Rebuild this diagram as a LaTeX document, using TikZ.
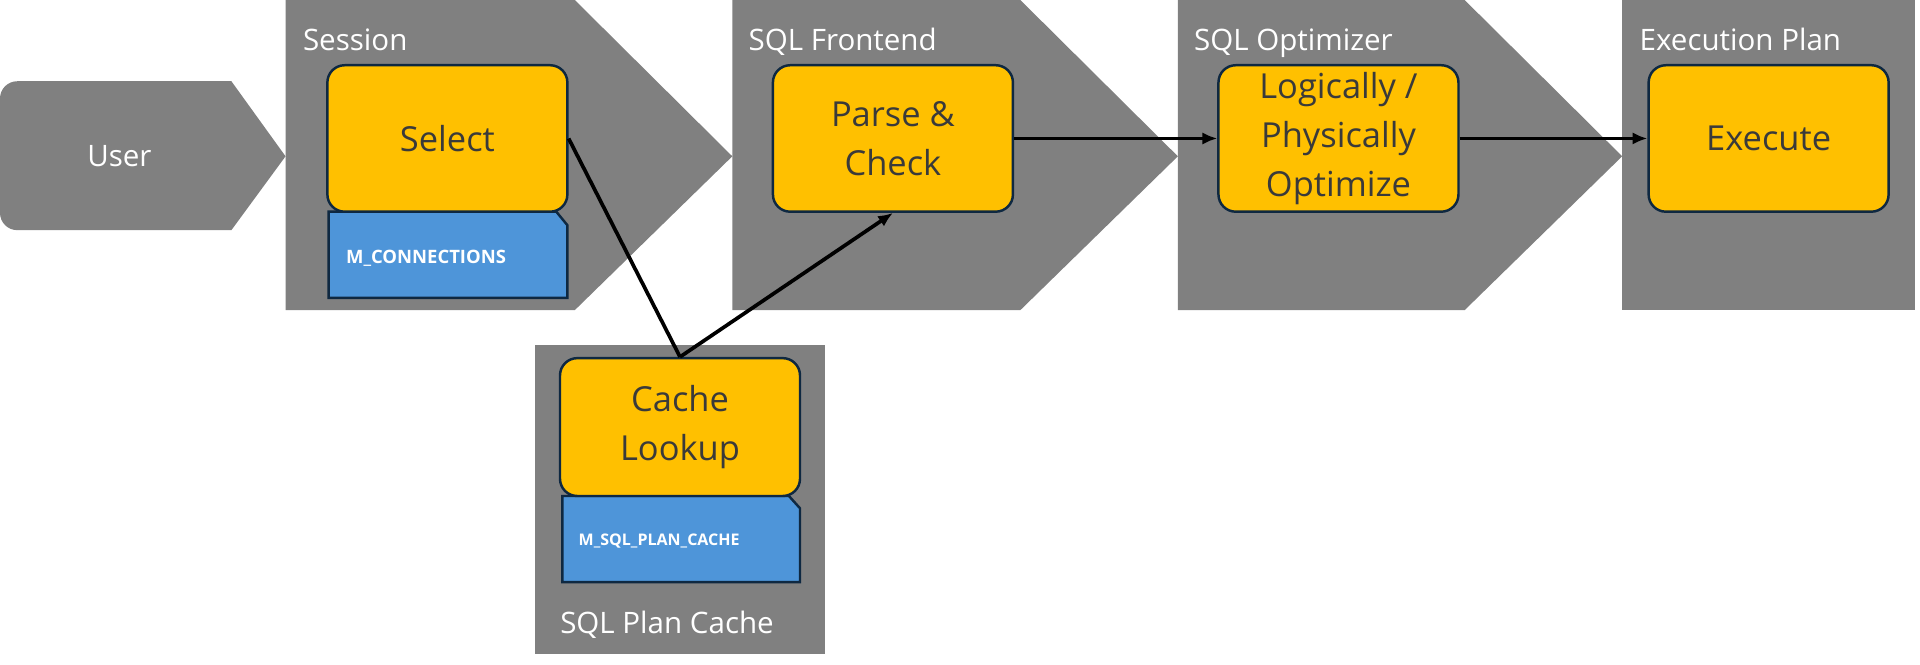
\documentclass[tikz,border=0pt]{standalone}
\usepackage{fontspec}
\setmainfont{Open Sans}
\usetikzlibrary{arrows.meta}
\definecolor{gr}{HTML}{808080}
\definecolor{yl}{HTML}{FFC000}
\definecolor{bl}{HTML}{4E95D9}
\definecolor{bd}{HTML}{0E2841}
\definecolor{tx}{HTML}{3A3A3A}
\begin{document}
\begin{tikzpicture}[x=1pt,y=-1pt,
 stage/.style={fill=gr,draw=none},
 lab/.style={text=white,font=\fontsize{24}{28}\selectfont,anchor=base west,inner sep=0},
 proc/.style={fill=yl,draw=bd,line width=2pt,rounded corners=14pt,minimum width=195pt,minimum height=119pt,text=tx,align=center,font=\fontsize{28}{40}\selectfont,inner sep=0},
 tbl/.style={fill=bl,draw=bd,line width=2pt},
 tbltx/.style={text=white,font=\bfseries\fontsize{15}{17}\selectfont,anchor=west,inner sep=0},
 conn/.style={line width=3pt,draw=black},
 arr/.style={conn,-{Latex[length=12pt,width=10pt]}}]
\useasboundingbox (0,0) rectangle (1560,540);
% user
\fill[gr] (188,66) [rounded corners=14pt] -- (0,66) -- (0,187) [sharp corners] -- (188,187) -- (232,127) -- cycle;
\node[text=white,font=\fontsize{24}{28}\selectfont] (user) at (97,127) {User};
% stages
\fill[stage] (232,0) -- (467,0) -- (595,127) -- (467,252) -- (232,252) -- cycle;
\fill[stage] (595,0) -- (829,0) -- (957,127) -- (829,252) -- (595,252) -- cycle;
\fill[stage] (957,0) -- (1190,0) -- (1318,127) -- (1190,252) -- (957,252) -- cycle;
\fill[stage] (1318,0) rectangle (1556,252);
\node[lab] (l1) at (246,41) {Session};
\node[lab] (l2) at (608,41) {SQL Frontend};
\node[lab] (l3) at (970,41) {SQL Optimizer};
\node[lab] (l4) at (1332,41) {Execution Plan};
% plan cache
\fill[stage] (435,280) rectangle (670,531);
\node[lab] (l5) at (455,515) {SQL Plan Cache};
% tables
\draw[tbl] (267,172) -- (452,172) -- (461,183) -- (461,242) -- (267,242) -- cycle;
\node[tbltx] (t1) at (281,210) {M\_CONNECTIONS};
\draw[tbl] (457,403) -- (641,403) -- (650,413) -- (650,473) -- (457,473) -- cycle;
\node[tbltx,font=\bfseries\fontsize{13}{15}\selectfont] (t2) at (470,440) {M\_SQL\_PLAN\_CACHE};
% processes
\node[proc] (sel) at (363.5,112.5) {Select};
\node[proc] (parse) at (725.5,112.5) {Parse \&\\Check};
\node[proc] (opt) at (1087.5,112.5) {Logically /\\Physically\\Optimize};
\node[proc] (exe) at (1437,112.5) {Execute};
\node[proc,minimum height=112pt] (cache) at (552.5,347) {Cache\\Lookup};
% connectors
\draw[conn] (sel.east) -- (cache.north);
\draw[arr] (cache.north) -- (parse.south);
\draw[arr] (parse.east) -- (opt.west);
\draw[arr] (opt.east) -- (exe.west);
\end{tikzpicture}
\end{document}
